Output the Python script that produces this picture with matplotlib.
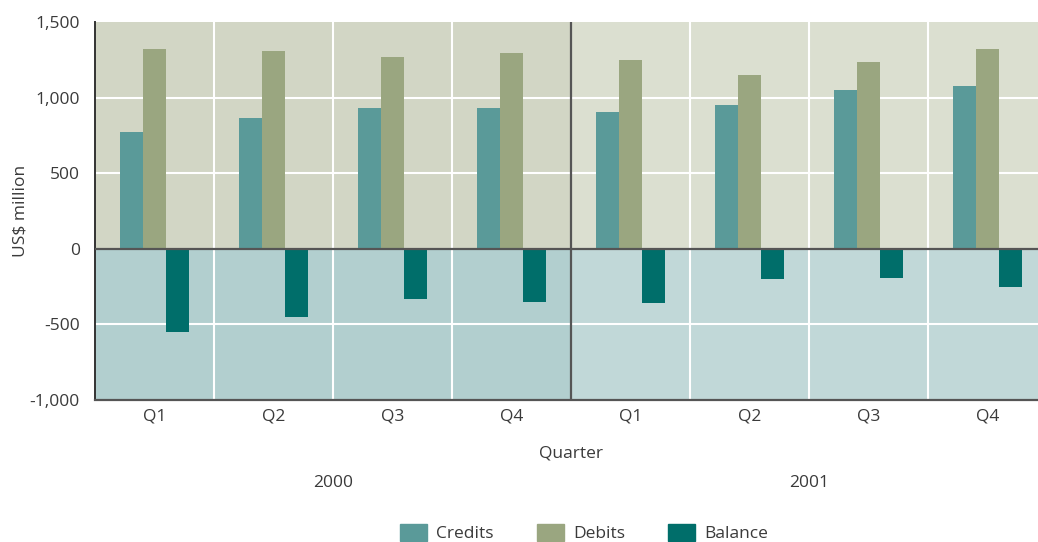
import numpy as np
import matplotlib.pyplot as plt
from matplotlib.patches import Patch

plt.rcParams['font.family'] = ['Open Sans', 'DejaVu Sans']

quarters = ['Q1', 'Q2', 'Q3', 'Q4', 'Q1', 'Q2', 'Q3', 'Q4']
years = ['2000', '2001']
credits = [772, 865, 931, 931, 905, 951, 1050, 1077]
debits = [1321, 1308, 1268, 1295, 1249, 1150, 1235, 1321]
balance = [-548, -451, -332, -352, -358, -200, -193, -252]

c_credits = '#5a9a99'
c_debits = '#9aa680'
c_balance = '#006e6a'
txt = '#3a3a3a'
fs = 12.5

fig = plt.figure(figsize=(10.38, 5.42), dpi=100)
ax = fig.add_axes([95/1038, 142/542, 952/1038, 378/542])

x = np.arange(len(quarters))
ymin, ymax = -1000, 1500
ax.set_xlim(-0.5, len(quarters) - 0.5)
ax.set_ylim(ymin, ymax)

# shaded background: positive / negative half, darker for the first year
ax.fill_between([-0.5, 3.5], 0, ymax, color='#d2d6c5', lw=0, zorder=0)
ax.fill_between([3.5, 7.5], 0, ymax, color='#dbdfd0', lw=0, zorder=0)
ax.fill_between([-0.5, 3.5], ymin, 0, color='#b2cfcf', lw=0, zorder=0)
ax.fill_between([3.5, 7.5], ymin, 0, color='#c1d8d8', lw=0, zorder=0)

for yv in (-500, 500, 1000):
    ax.axhline(yv, color='white', lw=1.5, zorder=1)
for xv in np.arange(0.5, 7.5, 1.0):
    if xv != 3.5:
        ax.axvline(xv, color='white', lw=1.5, zorder=1)
ax.axvline(3.5, color='#555555', lw=1.6, zorder=3)

w = 0.194
ax.bar(x - w, credits, w, color=c_credits, zorder=2)
ax.bar(x, debits, w, color=c_debits, zorder=2)
ax.bar(x + w, balance, w, color=c_balance, zorder=2)
ax.axhline(0, color='#555555', lw=1.6, zorder=3)

for s in ('top', 'right'):
    ax.spines[s].set_visible(False)
ax.spines['left'].set_color('#333333')
ax.spines['left'].set_linewidth(1.4)
ax.spines['bottom'].set_color('#555555')
ax.spines['bottom'].set_linewidth(1.6)

ax.set_yticks([-1000, -500, 0, 500, 1000, 1500])
ax.yaxis.set_major_formatter(plt.FuncFormatter(lambda v, p: f'{int(v):,}'))
ax.set_xticks(x, quarters)
ax.tick_params(axis='both', length=0, labelsize=fs, labelcolor=txt)
ax.tick_params(axis='x', pad=6)
ax.tick_params(axis='y', pad=11)
ax.set_ylabel('US$ million', fontsize=fs, color=txt, labelpad=0.5)
ax.set_xlabel('Quarter', fontsize=fs, color=txt, labelpad=15.5)

trans = ax.get_xaxis_transform()
ax.text(1.5, -0.22, years[0], transform=trans, ha='center', va='center',
        fontsize=fs, color=txt)
ax.text(5.5, -0.22, years[1], transform=trans, ha='center', va='center',
        fontsize=fs, color=txt)

handles = [Patch(color=c_credits, label='Credits'),
           Patch(color=c_debits, label='Debits'),
           Patch(color=c_balance, label='Balance')]
leg = fig.legend(handles=handles, loc='center', bbox_to_anchor=(584/1038, 9/542),
                 ncol=3, frameon=False, fontsize=fs, handlelength=1.55,
                 handleheight=1.15, handletextpad=0.52, columnspacing=2.5,
                 borderpad=0)
for t in leg.get_texts():
    t.set_color(txt)

fig.savefig('out.png', dpi=100)
